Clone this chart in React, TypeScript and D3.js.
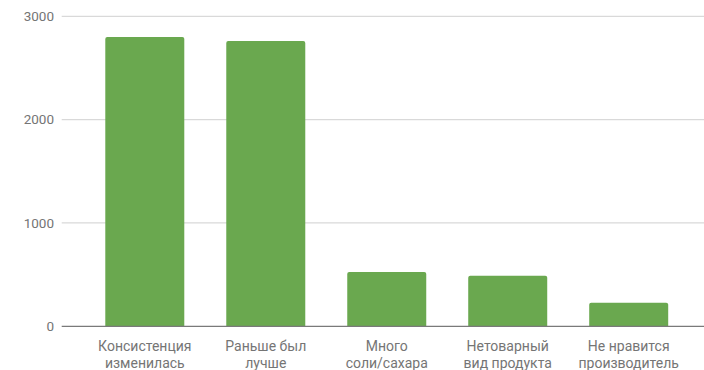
import React from "react";
import * as d3 from "d3";

// Reasons for dissatisfaction and how many respondents named each one
const categories: string[][] = [
  ["Консистенция", "изменилась"],
  ["Раньше был", "лучше"],
  ["Много", "соли/сахара"],
  ["Нетоварный", "вид продукта"],
  ["Не нравится", "производитель"],
];
const counts: number[] = [2800, 2760, 525, 490, 228];
const yTicks: number[] = [0, 1000, 2000, 3000];

const W = 704;
const H = 370;
const FONT = "Roboto, 'Noto Sans', Arial, sans-serif";
const BAR = "#6aa84f";

export default function App() {
  const keys = categories.map((c) => c.join(" "));
  const x = d3
    .scaleBand<string>()
    .domain(keys)
    .range([84.3, 689.2])
    .paddingInner(0.347)
    .paddingOuter(0.1735);
  const y = d3.scaleLinear().domain([0, 3000]).range([326.3, 16.3]);
  const gridLeft = 61.7;

  return (
    <svg
      width={W}
      height={H}
      style={{ position: "absolute", left: 0, top: 0, background: "#fff" }}
      fontFamily={FONT}
    >
      {/* horizontal gridlines and y tick labels */}
      {yTicks.map((t) => (
        <g key={t}>
          {t !== 0 && (
            <line
              x1={gridLeft}
              x2={W}
              y1={y(t)}
              y2={y(t)}
              stroke="#d9d9d9"
              strokeWidth={1.2}
            />
          )}
          <text
            x={54}
            y={y(t)}
            dy="0.36em"
            textAnchor="end"
            fontSize={13.5}
            fill="#757575"
          >
            {t}
          </text>
        </g>
      ))}

      {/* bars */}
      {counts.map((v, i) => {
        const x0 = x(keys[i]) as number;
        const bw = x.bandwidth();
        const top = y(v);
        const h = y(0) - top;
        const r = 2;
        const path = `M${x0},${y(0)} V${top + r} Q${x0},${top} ${x0 + r},${top} H${x0 + bw - r} Q${x0 + bw},${top} ${x0 + bw},${top + r} V${y(0)} Z`;
        return <path key={keys[i]} d={h > 0 ? path : ""} fill={BAR} />;
      })}

      {/* baseline */}
      <line
        x1={gridLeft}
        x2={W}
        y1={y(0)}
        y2={y(0)}
        stroke="#7a7a7a"
        strokeWidth={1.3}
      />

      {/* category labels */}
      {categories.map((lines, i) => {
        const cx = (x(keys[i]) as number) + x.bandwidth() / 2;
        return (
          <text key={keys[i]} textAnchor="middle" fontSize={14} fill="#757575">
            {lines.map((ln, j) => (
              <tspan key={j} x={cx} y={351 + j * 16.7}>
                {ln}
              </tspan>
            ))}
          </text>
        );
      })}
    </svg>
  );
}
